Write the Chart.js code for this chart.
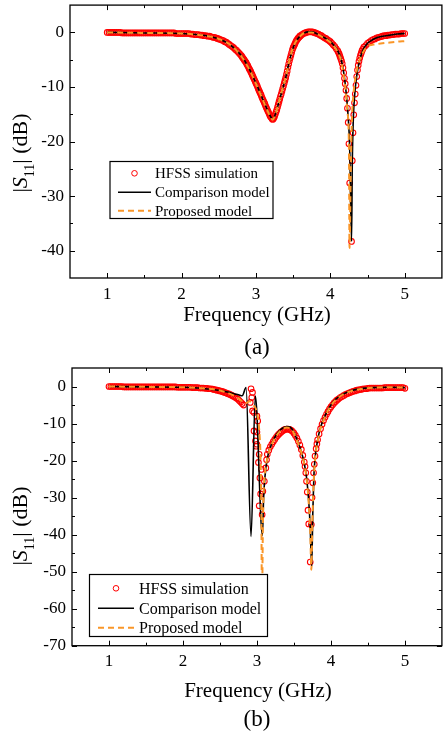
<!DOCTYPE html>
<html>
<head>
<meta charset="utf-8">
<script src="https://cdn.jsdelivr.net/npm/chart.js@4.4.0/dist/chart.umd.min.js"></script>
<style>
html, body { margin: 0; padding: 0; background: #fff; }
#wrap-a { position: absolute; left: 0; top: 0; width: 447px; height: 368px; }
#wrap-b { position: absolute; left: 0; top: 360px; width: 447px; height: 376px; }
</style>
</head>
<body>
<div id="wrap-a"><canvas id="chart-a"></canvas></div>
<div id="wrap-b"><canvas id="chart-b"></canvas></div>
<script>
// ---- data ----
var xMajorTicks = [1, 2, 3, 4, 5];
var xMinorTicks = [1.5, 2.5, 3.5, 4.5];
var yMajorA = [-40, -30, -20, -10, 0];
var yMinorA = [-35, -25, -15, -5];
var yMajorB = [-70, -60, -50, -40, -30, -20, -10, 0];
var yMinorB = [-65, -55, -45, -35, -25, -15, -5];

var seriesNames = ['HFSS simulation', 'Comparison model', 'Proposed model'];
var xTitle = 'Frequency (GHz)';

// (a) HFSS simulation
var hfssFreqA = [
  1.000,1.025,1.050,1.075,1.100,1.125,1.150,1.175,
  1.200,1.225,1.250,1.275,1.300,1.325,1.350,1.375,1.400,1.425,1.450,1.475,1.500,1.525,1.550,1.575,1.600,1.625,1.650,1.675,1.700,1.725,1.750,1.775,1.800,1.825,1.850,1.875,1.900,
  1.925,1.950,1.975,2.000,2.025,2.050,2.075,2.100,
  2.125,2.150,2.175,2.200,2.225,2.250,2.275,2.300,2.325,2.350,2.375,2.400,
  2.42,2.44,2.46,2.48,2.50,2.52,2.54,2.56,2.58,2.60,2.62,2.64,2.66,2.68,2.70,2.72,2.74,2.76,2.78,2.80,
  2.81,2.82,2.83,2.84,2.85,2.86,2.87,2.88,2.89,2.90,
  2.91,2.92,2.93,2.94,2.95,2.96,2.97,2.98,2.99,3.00,
  3.01,3.02,3.03,3.04,3.05,3.06,3.07,3.08,3.09,3.10,
  3.11,3.12,3.13,3.14,3.15,3.16,3.17,3.18,3.19,3.20,
  3.21,3.22,3.23,3.24,3.25,3.26,3.27,3.28,3.29,3.30,
  3.31,3.32,3.33,3.34,3.35,3.36,3.37,3.38,3.39,3.40,
  3.41,3.42,3.43,3.44,3.45,3.46,3.47,3.48,3.49,3.50,
  3.51,3.52,3.53,3.54,3.55,3.56,3.57,3.58,3.59,3.60,
  3.62,3.64,3.66,3.68,3.70,3.72,3.74,3.76,3.78,3.80,3.82,3.84,3.86,3.88,3.90,3.92,3.94,3.96,3.98,4.00,4.02,4.04,4.06,4.08,4.10,
  4.11,4.12,4.13,4.14,4.15,4.16,4.17,4.18,4.19,4.20,
  4.21,4.22,4.23,4.24,4.25,4.26,4.285,
  4.295,4.305,4.315,4.325,4.335,4.345,4.355,4.365,4.375,4.385,4.395,4.405,4.415,4.425,4.435,4.45,
  4.475,4.500,4.525,4.550,4.575,4.600,4.625,4.650,4.675,4.700,4.725,4.750,4.775,4.800,4.825,4.850,4.875,4.900,4.925,4.950,4.975,5.000
];
var hfssA = [
  0,0,0,0,0,0,0,0,
  -0.1,-0.1,-0.1,-0.1,-0.1,-0.1,-0.1,-0.1,-0.1,-0.1,-0.1,-0.1,-0.1,-0.1,-0.1,-0.1,-0.1,-0.1,-0.1,-0.1,-0.1,-0.1,-0.1,-0.1,-0.1,-0.1,-0.1,-0.1,-0.1,
  -0.2,-0.2,-0.2,-0.2,-0.2,-0.2,-0.2,-0.2,
  -0.3,-0.3,-0.4,-0.4,-0.4,-0.5,-0.5,-0.6,-0.6,-0.7,-0.7,-0.8,
  -0.9,-0.9,-1.0,-1.1,-1.2,-1.3,-1.4,-1.5,-1.7,-1.8,-2.0,-2.2,-2.4,-2.6,-2.8,-3.1,-3.3,-3.6,-3.9,-4.2,
  -4.4,-4.6,-4.8,-5.0,-5.2,-5.4,-5.6,-5.9,-6.1,-6.4,
  -6.7,-6.9,-7.2,-7.5,-7.8,-8.1,-8.4,-8.7,-9.0,-9.3,
  -9.6,-9.9,-10.3,-10.6,-10.9,-11.2,-11.5,-11.9,-12.2,-12.5,
  -12.8,-13.1,-13.5,-13.8,-14.1,-14.4,-14.7,-15.0,-15.3,-15.5,
  -15.7,-15.9,-15.9,-15.7,-15.4,-15.0,-14.6,-14.2,-13.7,-13.2,
  -12.7,-12.2,-11.7,-11.3,-10.8,-10.3,-9.8,-9.3,-8.8,-8.3,
  -7.7,-7.1,-6.4,-5.8,-5.2,-4.7,-4.2,-3.7,-3.2,-2.8,
  -2.5,-2.2,-1.9,-1.6,-1.4,-1.2,-1.0,-0.9,-0.7,-0.6,
  -0.4,-0.2,-0.1,0,0.1,0.1,0.1,0.1,0,-0.1,-0.2,-0.3,-0.5,-0.6,-0.8,-1.0,-1.1,-1.3,-1.5,-1.7,-2.0,-2.3,-2.6,-3.0,-3.4,
  -3.7,-4.0,-4.4,-4.8,-5.2,-5.7,-6.5,-7.4,-8.4,-9.4,
  -10.6,-12.1,-13.9,-16.5,-20.4,-27.6,-38.3,
  -23.5,-18.4,-15.1,-12.9,-11.3,-9.7,-8.1,-6.9,-6.0,-5.3,-4.7,-4.2,-3.8,-3.4,-3.1,-2.7,
  -2.4,-2.0,-1.8,-1.5,-1.3,-1.2,-1.0,-0.9,-0.8,-0.7,-0.6,-0.6,-0.5,-0.5,-0.4,-0.4,-0.3,-0.3,-0.3,-0.2,-0.2,-0.2
];

// (a) comparison model
var compFreqA = [1.0,1.5,2.0,2.2,2.4,2.5,2.6,2.7,2.8,2.9,3.0,3.1,3.15,3.2,3.225,3.25,3.3,3.35,3.4,3.45,3.5,3.55,3.6,3.65,3.7,3.75,3.8,3.85,3.9,4.0,4.05,4.1,4.15,4.2,4.24,4.26,4.285,4.295,4.31,4.33,4.36,4.4,4.44,4.5,4.55,4.6,4.7,4.8,4.9,5.0];
var compA = [0,-0.1,-0.2,-0.4,-0.8,-1.2,-1.8,-2.8,-4.2,-6.4,-9.3,-12.5,-14.1,-15.5,-15.9,-15.4,-13.2,-10.8,-8.3,-5.2,-2.8,-1.4,-0.6,-0.1,0.1,0.1,-0.1,-0.5,-0.8,-1.7,-2.4,-3.4,-5.2,-9.4,-15.5,-21,-38.3,-24,-15.5,-11,-7.5,-4.8,-3.2,-2.0,-1.5,-1.1,-0.7,-0.5,-0.3,-0.2];

// (a) proposed model
var propFreqA = [1.0,1.5,2.0,2.2,2.4,2.5,2.6,2.7,2.8,2.9,3.0,3.1,3.15,3.2,3.225,3.25,3.3,3.35,3.4,3.45,3.5,3.55,3.6,3.65,3.7,3.75,3.8,3.85,3.9,4.0,4.05,4.1,4.15,4.2,4.23,4.25,4.258,4.275,4.29,4.31,4.35,4.4,4.45,4.5,4.55,4.6,4.7,4.8,4.9,5.0];
var propA = [0,-0.1,-0.2,-0.4,-0.8,-1.2,-1.8,-2.8,-4.3,-6.5,-9.4,-12.6,-14.2,-15.6,-16.0,-15.5,-13.2,-10.7,-8.2,-5.1,-2.7,-1.4,-0.6,-0.1,0,0,-0.2,-0.5,-0.9,-1.8,-2.5,-3.6,-5.5,-10.0,-14.5,-21,-39.5,-25,-16,-11.5,-7.3,-4.8,-3.4,-2.6,-2.3,-2.2,-2.0,-1.85,-1.7,-1.6];

// (b) HFSS simulation
var hfssFreqB = [
  1.000,1.025,1.050,1.075,1.100,1.125,1.150,1.175,
  1.200,1.225,1.250,1.275,1.300,1.325,1.350,1.375,1.400,1.425,1.450,1.475,1.500,1.525,1.550,1.575,1.600,1.625,1.650,1.675,1.700,1.725,1.750,1.775,1.800,1.825,1.850,1.875,1.900,
  1.925,1.950,1.975,2.000,2.025,2.050,2.075,2.100,
  2.125,2.150,2.175,2.200,2.225,2.250,2.275,2.300,2.325,2.350,2.375,2.400,
  2.42,2.44,2.46,2.48,2.50,2.52,2.54,2.56,2.58,2.60,2.62,2.64,2.66,2.68,2.70,2.72,2.74,2.76,2.78,2.80,2.82,
  2.92,2.94,2.93,2.91,2.94,2.96,3.00,3.01,2.96,3.00,2.98,3.00,2.99,3.02,3.03,3.06,3.04,3.05,3.03,3.07,3.075,3.08,3.10,3.12,3.13,3.14,
  3.16,3.18,3.20,3.22,3.24,3.26,3.28,3.30,3.32,3.34,3.36,3.38,3.40,3.42,3.44,3.46,3.48,3.50,3.52,3.54,3.56,3.58,
  3.60,3.62,3.64,3.65,3.66,3.67,3.68,3.69,3.70,3.72,3.735,3.745,3.755,3.765,3.775,3.785,3.80,3.81,3.82,
  3.84,3.86,3.88,3.90,3.92,3.94,3.96,3.98,4.00,4.02,4.04,4.06,4.08,4.10,
  4.125,4.150,4.175,4.200,4.225,4.250,4.275,4.300,4.325,4.350,4.375,4.400,4.425,4.450,4.475,4.500,
  4.525,4.550,4.575,4.600,4.625,4.650,4.675,4.700,
  4.725,4.750,4.775,4.800,4.825,4.850,4.875,4.900,4.925,4.950,4.975,5.000
];
var hfssB = [
  0,0,0,0,0,0,0,0,
  -0.1,-0.1,-0.1,-0.1,-0.1,-0.1,-0.1,-0.1,-0.1,-0.1,-0.1,-0.1,-0.1,-0.1,-0.1,-0.1,-0.1,-0.1,-0.1,-0.1,-0.1,-0.1,-0.1,-0.1,-0.1,-0.1,-0.1,-0.1,-0.1,
  -0.2,-0.2,-0.2,-0.2,-0.2,-0.2,-0.2,-0.2,
  -0.3,-0.3,-0.3,-0.3,-0.4,-0.4,-0.4,-0.5,-0.5,-0.6,-0.6,-0.7,
  -0.8,-0.9,-1.0,-1.1,-1.2,-1.3,-1.4,-1.6,-1.7,-1.9,-2.0,-2.2,-2.4,-2.6,-2.8,-3.1,-3.4,-3.8,-4.2,-4.6,-5.0,
  -0.6,-1.6,-3.0,-4.3,-6.6,-7.0,-8.0,-9.3,-12.0,-12.3,-14.7,-15.6,-16.1,-20.5,-18.3,-22.4,-24.7,-29.0,-32.2,-34.6,-58.3,-28.3,-25.6,-22.0,-19.8,-18.3,
  -17.2,-16.3,-15.6,-14.9,-14.3,-13.7,-13.2,-12.8,-12.4,-12.1,-11.8,-11.6,-11.5,-11.5,-11.6,-11.8,-12.1,-12.6,-13.2,-13.9,-14.8,-15.8,
  -17.0,-18.6,-20.4,-21.6,-23.3,-25.6,-28.5,-33.4,-37.1,-47.4,-37.3,-30.0,-26.0,-23.3,-21.0,-18.8,-16.8,-15.5,-14.4,
  -12.8,-11.4,-10.2,-9.2,-8.3,-7.5,-6.8,-6.1,-5.5,-5.0,-4.5,-4.1,-3.7,-3.4,
  -3.0,-2.7,-2.4,-2.1,-1.9,-1.7,-1.5,-1.3,-1.2,-1.0,-0.9,-0.8,-0.7,-0.6,-0.6,-0.5,
  -0.4,-0.4,-0.4,-0.4,-0.4,-0.4,-0.4,-0.4,
  -0.3,-0.3,-0.3,-0.3,-0.3,-0.3,-0.3,-0.3,-0.3,-0.3,-0.3,-0.5
];

// (b) comparison model
var compFreqB = [1.0,1.5,2.0,2.2,2.4,2.5,2.6,2.7,2.75,2.8,2.853,2.92,2.978,3.074,3.09,3.11,3.14,3.18,3.22,3.26,3.3,3.35,3.4,3.45,3.5,3.55,3.6,3.64,3.67,3.7,3.72,3.74,3.755,3.77,3.79,3.82,3.86,3.91,3.96,4.04,4.12,4.26,4.4,4.57,4.8,5.0];
var compB = [0,-0.1,-0.2,-0.4,-0.8,-1.1,-1.5,-2.0,-2.2,-2.5,-0.3,-40.5,-2.6,-40.2,-30,-24,-19.5,-16.5,-14.6,-13.1,-12.0,-11.2,-10.8,-11.0,-12.4,-14.8,-17.6,-20.8,-24.5,-31,-38,-48.6,-34,-24,-18.5,-14.5,-11,-8.4,-6.3,-3.9,-2.6,-1.2,-0.6,-0.3,-0.2,-0.3];

// (b) proposed model
var propFreqB = [1.0,1.5,2.0,2.2,2.4,2.5,2.6,2.7,2.75,2.8,2.85,2.9,2.95,3.0,3.03,3.05,3.06,3.068,3.08,3.09,3.11,3.14,3.18,3.22,3.26,3.3,3.35,3.4,3.45,3.5,3.55,3.6,3.64,3.67,3.7,3.72,3.735,3.75,3.77,3.79,3.82,3.86,3.91,3.96,4.04,4.12,4.26,4.4,4.57,4.8,5.0];
var propB = [0,-0.1,-0.2,-0.4,-0.7,-1.1,-1.7,-2.6,-3.2,-4.0,-4.5,-4.0,-5.0,-7.0,-11.6,-20.6,-35,-60,-38,-29,-23,-19.5,-16.6,-14.8,-13.4,-12.3,-11.5,-11.1,-11.3,-12.6,-15.0,-17.8,-21.0,-24.8,-31.5,-39,-49.5,-36,-24.5,-18.8,-14.8,-11.3,-8.7,-6.5,-4.1,-2.7,-1.3,-0.7,-0.35,-0.2,-0.3];

// ---- drawing ----
var SERIF = '"Liberation Serif", "Times New Roman", serif';
var RED = 'rgb(255, 0, 0)';
var ORANGE = 'rgb(250, 150, 40)';
Chart.defaults.font.family = SERIF;
Chart.defaults.color = '#000';

function pts(xs, ys) {
  return xs.map(function(x, i) { return {x: x, y: ys[i]}; });
}

// per panel layout (canvas coordinates)
var panels = {
  'chart-a': {
    yMajor: yMajorA, yMinor: yMinorA, label: '(a)',
    xTitleY: 315, labelY: 348, yTitleX: 20, yTitleY: 153,
    legend: {x: 110, y: 161.5, w: 163, h: 57, rows: [173.3, 192.3, 210.7], x1: 118, x2: 151, tx: 155, font: 15}
  },
  'chart-b': {
    yMajor: yMajorB, yMinor: yMinorB, label: '(b)',
    xTitleY: 331.5, labelY: 360, yTitleX: 20, yTitleY: 166,
    legend: {x: 89.5, y: 214.5, w: 178, h: 62, rows: [228.3, 248.3, 267.7], x1: 98, x2: 134, tx: 139, font: 16}
  }
};

function drawYTitle(ctx, cx, cy, size) {
  var parts = [
    {t: '|', f: size + 'px ' + SERIF, dy: 0},
    {t: 'S', f: 'italic ' + size + 'px ' + SERIF, dy: 0},
    {t: '11', f: Math.round(size * 0.62) + 'px ' + SERIF, dy: size * 0.28},
    {t: '| (dB)', f: size + 'px ' + SERIF, dy: 0}
  ];
  var total = 0;
  parts.forEach(function(p) { ctx.font = p.f; p.w = ctx.measureText(p.t).width; total += p.w; });
  ctx.save();
  ctx.translate(cx, cy);
  ctx.rotate(-Math.PI / 2);
  ctx.textAlign = 'left';
  ctx.textBaseline = 'alphabetic';
  var x = -total / 2;
  parts.forEach(function(p) {
    ctx.font = p.f;
    ctx.fillText(p.t, x, size * 0.34 + p.dy);
    x += p.w;
  });
  ctx.restore();
}

var framePlugin = {
  id: 'frame',
  afterDatasetsDraw: function(chart) {
    var p = panels[chart.canvas.id];
    var ctx = chart.ctx, area = chart.chartArea;
    var xs = chart.scales.x, ys = chart.scales.y;
    ctx.save();
    // inward ticks on all four sides
    ctx.strokeStyle = '#000';
    ctx.lineWidth = 1;
    ctx.beginPath();
    function vtick(v, len) {
      var px = Math.round(xs.getPixelForValue(v)) + 0.5;
      ctx.moveTo(px, area.bottom); ctx.lineTo(px, area.bottom - len);
      ctx.moveTo(px, area.top); ctx.lineTo(px, area.top + len);
    }
    function htick(v, len) {
      var py = Math.round(ys.getPixelForValue(v)) + 0.5;
      ctx.moveTo(area.left, py); ctx.lineTo(area.left + len, py);
      ctx.moveTo(area.right, py); ctx.lineTo(area.right - len, py);
    }
    xMajorTicks.forEach(function(v) { vtick(v, 5); });
    xMinorTicks.forEach(function(v) { vtick(v, 3); });
    p.yMajor.forEach(function(v) { htick(v, 5); });
    p.yMinor.forEach(function(v) { htick(v, 3); });
    ctx.stroke();
    ctx.lineWidth = 1.3;
    ctx.strokeRect(area.left, area.top, area.right - area.left, area.bottom - area.top);

    // legend box
    var L = p.legend, ds = chart.data.datasets;
    ctx.fillStyle = '#fff';
    ctx.fillRect(L.x, L.y, L.w, L.h);
    ctx.lineWidth = 1.2;
    ctx.strokeStyle = '#000';
    ctx.strokeRect(L.x, L.y, L.w, L.h);
    ctx.font = L.font + 'px ' + SERIF;
    ctx.textAlign = 'left';
    ctx.textBaseline = 'middle';
    ds.forEach(function(d, i) {
      var y = L.rows[i];
      ctx.save();
      if (i === 0) {
        ctx.strokeStyle = RED; ctx.lineWidth = 1;
        ctx.beginPath(); ctx.arc((L.x1 + L.x2) / 2, y, d.pointRadius, 0, Math.PI * 2); ctx.stroke();
      } else {
        ctx.strokeStyle = d.borderColor; ctx.lineWidth = d.borderWidth;
        ctx.setLineDash(d.borderDash || []);
        ctx.beginPath(); ctx.moveTo(L.x1, y); ctx.lineTo(L.x2, y); ctx.stroke();
      }
      ctx.restore();
      ctx.fillStyle = '#000';
      ctx.fillText(d.label, L.tx, y + 1);
    });

    // axis titles and panel label
    ctx.fillStyle = '#000';
    ctx.textAlign = 'center';
    ctx.textBaseline = 'middle';
    ctx.font = '21px ' + SERIF;
    ctx.fillText(xTitle, (area.left + area.right) / 2 + 1, p.xTitleY);
    ctx.font = '23px ' + SERIF;
    ctx.fillText(p.label, 257, p.labelY);
    drawYTitle(ctx, p.yTitleX, p.yTitleY, 22);
    ctx.restore();
  }
};

function makeConfig(hf, hv, cf, cv, pf, pv, yMin, yMax, yMajor, yWidth, xHeight, padTop) {
  return {
    type: 'scatter',
    data: {
      datasets: [{
        label: seriesNames[0],
        data: pts(hf, hv),
        showLine: false,
        pointStyle: 'circle',
        pointRadius: 2.8,
        pointBorderWidth: 1.1,
        borderColor: RED,
        backgroundColor: 'rgba(0,0,0,0)',
        order: 3
      }, {
        label: seriesNames[1],
        data: pts(cf, cv),
        showLine: true,
        pointRadius: 0,
        borderColor: '#000',
        borderWidth: 1.6,
        cubicInterpolationMode: 'monotone',
        order: 2
      }, {
        label: seriesNames[2],
        data: pts(pf, pv),
        showLine: true,
        pointRadius: 0,
        borderColor: ORANGE,
        borderWidth: 2,
        borderDash: [6, 4],
        cubicInterpolationMode: 'monotone',
        order: 1
      }]
    },
    options: {
      responsive: true,
      maintainAspectRatio: false,
      animation: false,
      events: [],
      layout: {padding: {left: 0, right: 1, top: padTop, bottom: 0}},
      plugins: {legend: {display: false}, tooltip: {enabled: false}, title: {display: false}},
      scales: {
        x: {
          type: 'linear', min: 0.5, max: 5.5,
          grid: {display: false, drawTicks: false}, border: {display: false},
          afterBuildTicks: function(s) { s.ticks = xMajorTicks.map(function(v) { return {value: v}; }); },
          afterFit: function(s) { s.height = xHeight; s.paddingLeft = 0; s.paddingRight = 0; },
          ticks: {font: {size: 17}, color: '#000', padding: 6, maxRotation: 0, autoSkip: false}
        },
        y: {
          type: 'linear', min: yMin, max: yMax,
          grid: {display: false, drawTicks: false}, border: {display: false},
          afterBuildTicks: function(s) { s.ticks = yMajor.map(function(v) { return {value: v}; }); },
          afterFit: function(s) { s.width = yWidth; s.paddingTop = 0; s.paddingBottom = 0; },
          ticks: {font: {size: 17}, color: '#000', padding: 6, autoSkip: false}
        }
      }
    },
    plugins: [framePlugin]
  };
}

var configA = makeConfig(hfssFreqA, hfssA, compFreqA, compA, propFreqA, propA, -45, 5, yMajorA, 70, 90, 3);
var configB = makeConfig(hfssFreqB, hfssB, compFreqB, compB, propFreqB, propB, -70, 5, yMajorB, 72, 90.3, 8);

window.onload = function() {
  var aCtx = document.getElementById('chart-a').getContext('2d');
  window.chartA = new Chart(aCtx, configA);
  var bCtx = document.getElementById('chart-b').getContext('2d');
  window.chartB = new Chart(bCtx, configB);
};
</script>
</body>
</html>
